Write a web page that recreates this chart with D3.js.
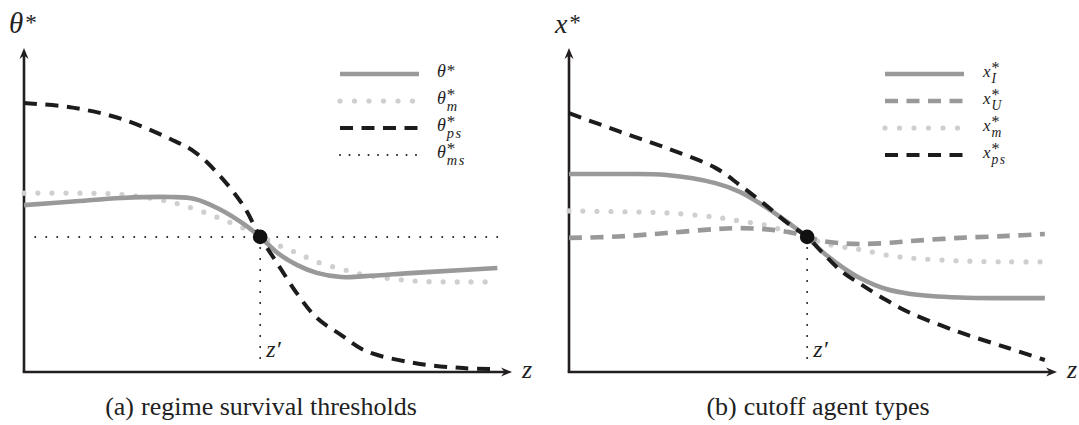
<!DOCTYPE html>
<html>
<head>
<meta charset="utf-8">
<script src="https://cdn.jsdelivr.net/npm/d3@7"></script>
<style>
  html, body { margin: 0; padding: 0; background: #fff; }
  svg { display: block; }
</style>
</head>
<body>
<svg id="chart" width="1079" height="425"></svg>
<script>
// ---------------- data ----------------
// Panel (a): regime survival thresholds
const zA = [0, 1, 2, 3, 3.5, 4, 4.5, 4.84, 5.2, 5.6, 6, 6.5, 7, 8, 9, 9.7];
const thetaStar = [5.15, 5.26, 5.37, 5.40, 5.34, 5.03, 4.57, 4.17, 3.67, 3.30, 3.06, 2.93, 2.96, 3.06, 3.15, 3.21];
const thetaM    = [5.52, 5.52, 5.48, 5.25, 5.03, 4.75, 4.44, 4.20, 3.92, 3.67, 3.40, 3.18, 2.99, 2.81, 2.78, 2.78];
const thetaPS   = [8.30, 8.16, 7.81, 7.19, 6.79, 6.08, 5.12, 4.17, 3.33, 2.41, 1.67, 1.14, 0.65, 0.28, 0.12, 0.09];
const thetaMS   = 4.17;
const zPrimeA   = 4.84;
const zStartMS  = 0.23;

// Panel (b): cutoff agent types
const zB = [0, 1, 2, 3, 3.5, 4, 4.5, 4.88, 5.2, 5.6, 6, 6.5, 7, 8, 9, 9.75];
const xI  = [6.11, 6.11, 6.08, 5.83, 5.56, 5.12, 4.60, 4.17, 3.70, 3.24, 2.87, 2.56, 2.41, 2.30, 2.28, 2.28];
const xU  = [4.14, 4.18, 4.29, 4.41, 4.44, 4.41, 4.32, 4.17, 4.04, 3.97, 3.95, 3.98, 4.04, 4.14, 4.20, 4.26];
const xM  = [4.97, 4.95, 4.91, 4.78, 4.66, 4.54, 4.32, 4.17, 3.98, 3.86, 3.77, 3.61, 3.52, 3.43, 3.40, 3.40];
const xPS = [7.99, 7.44, 6.91, 6.30, 5.77, 5.19, 4.57, 4.17, 3.67, 3.09, 2.69, 2.22, 1.82, 1.23, 0.74, 0.37];
const zPrimeB = 4.88;
const crossB  = 4.17;

const legendA = [
  { base: "θ", sub: "",   style: "solid" },
  { base: "θ", sub: "m",  style: "dots" },
  { base: "θ", sub: "ps", style: "blackdash" },
  { base: "θ", sub: "ms", style: "finedot" }
];
const legendB = [
  { base: "x", sub: "I",  style: "solid" },
  { base: "x", sub: "U",  style: "graydash" },
  { base: "x", sub: "m",  style: "dots" },
  { base: "x", sub: "ps", style: "blackdash" }
];
const captionA = ["(a)", "regime survival thresholds"];
const captionB = ["(b)", "cutoff agent types"];

// ---------------- styles ----------------
const STY = {
  solid:     { stroke: "#999999", width: 4.6, dash: null, cap: "butt" },
  graydash:  { stroke: "#999999", width: 4.6, dash: "13,8.5", cap: "butt" },
  dots:      { stroke: "#cfcfcf", width: 5.2, dash: "0,14", cap: "round" },
  blackdash: { stroke: "#1c1c1c", width: 4, dash: "13,8.5", cap: "butt" },
  finedot:   { stroke: "#1c1c1c", width: 2, dash: "0,11", cap: "round" }
};
const AXIS_COLOR = "#231f20";
const MATH_FONT = '"Liberation Serif"';

const svg = d3.select("#chart");

function applyStyle(sel, s) {
  sel.attr("fill", "none")
     .attr("stroke", s.stroke)
     .attr("stroke-width", s.width)
     .attr("stroke-linecap", s.cap)
     .attr("stroke-dasharray", s.dash);
  return sel;
}

// one <text> per label: base, superscript star, subscript stacked beneath the star
function mathLabel(g, x, y, base, sub, size, opts = {}) {
  const t = g.append("text")
    .attr("x", x).attr("y", y)
    .style("font-family", MATH_FONT)
    .attr("font-size", size)
    .attr("fill", "#222");
  t.append("tspan").style("font-family", MATH_FONT).attr("font-style", "italic").text(base);
  const starSize = size * (opts.starScale || 0.85);
  const starDy = opts.starDy !== undefined ? opts.starDy : 0;
  const star = t.append("tspan").style("font-family", MATH_FONT).attr("dx", opts.gap || 1).attr("dy", starDy)
    .attr("font-size", starSize).text("*");
  if (sub) {
    const sw = star.node().getComputedTextLength();
    t.append("tspan").style("font-family", MATH_FONT).attr("dx", -sw).attr("dy", size * 0.38 - starDy)
      .attr("font-style", "italic").attr("font-size", size * 0.8)
      .attr("letter-spacing", 1.5).text(sub);
  }
}

function arrowHead(g, x, y, dir) {
  const L = 11, W = 4.5, N = 7.5;
  let pts;
  if (dir === "right") pts = [[x, y], [x - L, y - W], [x - N, y], [x - L, y + W]];
  else pts = [[x, y], [x - W, y + L], [x, y + N], [x + W, y + L]];
  g.append("path")
    .attr("d", "M" + pts.map(p => p.join(",")).join("L") + "Z")
    .attr("fill", AXIS_COLOR);
}

function panel(cfg) {
  const g = svg.append("g");
  const x = d3.scaleLinear().domain([0, 10]).range([cfg.x0, cfg.x1]);
  const y = d3.scaleLinear().domain([0, 10]).range([cfg.y0, cfg.y1]);
  const [xa, xb] = x.range();
  const [ya, yb] = y.range();

  // axes
  g.append("line").attr("x1", xa - 1.3).attr("x2", xb - 6).attr("y1", ya).attr("y2", ya)
    .attr("stroke", AXIS_COLOR).attr("stroke-width", 2.6);
  g.append("line").attr("x1", xa).attr("x2", xa).attr("y1", ya).attr("y2", yb + 6)
    .attr("stroke", AXIS_COLOR).attr("stroke-width", 2.6);
  arrowHead(g, xb, ya, "right");
  arrowHead(g, xa, yb, "up");

  const lineGen = d3.line().x(d => x(d[0])).y(d => y(d[1])).curve(d3.curveCatmullRom.alpha(0.5));
  if (cfg.hline !== undefined) {
    applyStyle(g.append("path").attr("d", d3.line()([[x(cfg.hStart), y(cfg.hline)], [x(cfg.z[cfg.z.length - 1]), y(cfg.hline)]])), STY.finedot);
  }
  applyStyle(g.append("path").attr("d", d3.line()([[x(cfg.zPrime), y(cfg.cross)], [x(cfg.zPrime), y(0.3)]])), STY.finedot);

  cfg.series.forEach(s => {
    applyStyle(g.append("path").attr("d", lineGen(cfg.z.map((z, i) => [z, s.values[i]]))), STY[s.style]);
  });

  g.append("circle").attr("cx", x(cfg.zPrime)).attr("cy", y(cfg.cross)).attr("r", 7.3).attr("fill", "#111");

  // labels
  g.append("text").attr("x", x(cfg.zPrime) + 6).attr("y", y(0) - 15)
    .style("font-family", MATH_FONT).attr("font-style", "italic").attr("font-size", 24)
    .attr("fill", "#222").text("z′");
  g.append("text").attr("x", xb + 10).attr("y", ya + 6)
    .style("font-family", MATH_FONT).attr("font-style", "italic").attr("font-size", 26)
    .attr("fill", "#222").text("z");
  mathLabel(g, cfg.yLabelX, 33, cfg.yLabel, "", cfg.yLabelSize, { starDy: -3, starScale: 0.8, gap: 2 });

  // legend
  const ly = d3.scalePoint().domain(d3.range(cfg.legend.length)).range([74, 155]);
  cfg.legend.forEach((d, i) => {
    applyStyle(g.append("path").attr("d", d3.line()([[cfg.legX, ly(i)], [cfg.legX + 79, ly(i)]])),
      d.style === "finedot" ? Object.assign({}, STY.finedot, { dash: "0,9.5" }) :
      d.style === "dots" ? Object.assign({}, STY.dots, { dash: "0,14.5" }) : STY[d.style]);
    mathLabel(g, cfg.legLabelX, ly(i) + 3, d.base, d.sub, cfg.legSize, { starDy: d.sub ? -4 : -1, starScale: 0.95 });
  });

  // caption
  const cap = g.append("text").attr("x", cfg.capX).attr("y", 415)
    .attr("text-anchor", "middle")
    .style("font-family", MATH_FONT).attr("font-size", 26).attr("fill", "#222");
  cap.append("tspan").style("font-family", MATH_FONT).text(cfg.caption[0]);
  cap.append("tspan").style("font-family", MATH_FONT).attr("dx", 7).text(cfg.caption[1]);
}

panel({
  x0: 24, x1: 512, y0: 372, y1: 48,
  z: zA, zPrime: zPrimeA, cross: thetaMS, hline: thetaMS, hStart: zStartMS,
  series: [
    { values: thetaM, style: "dots" },
    { values: thetaStar, style: "solid" },
    { values: thetaPS, style: "blackdash" }
  ],
  yLabel: "θ", yLabelX: 9, yLabelSize: 29,
  legend: legendA, legX: 340, legLabelX: 437, legSize: 18,
  caption: captionA, capX: 261
});

panel({
  x0: 569, x1: 1057, y0: 372, y1: 48,
  z: zB, zPrime: zPrimeB, cross: crossB,
  series: [
    { values: xM, style: "dots" },
    { values: xU, style: "graydash" },
    { values: xI, style: "solid" },
    { values: xPS, style: "blackdash" }
  ],
  yLabel: "x", yLabelX: 555, yLabelSize: 28,
  legend: legendB, legX: 885, legLabelX: 983, legSize: 17,
  caption: captionB, capX: 818
});
</script>
</body>
</html>
